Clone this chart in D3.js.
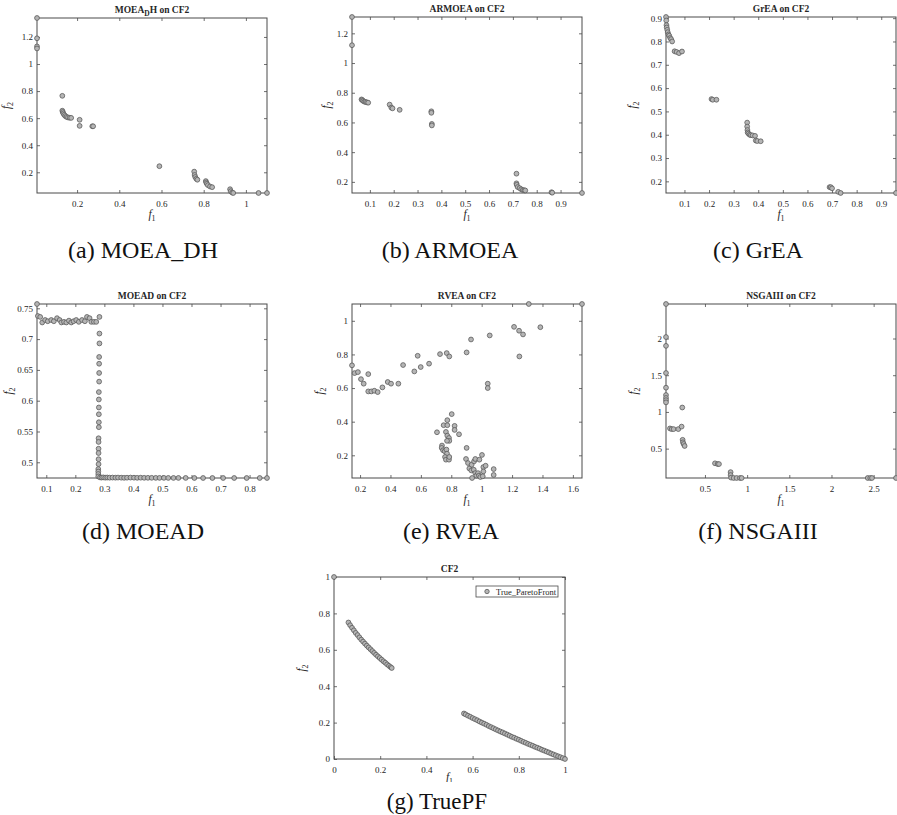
<!DOCTYPE html>
<html>
<head>
<meta charset="utf-8">
<script src="https://cdn.jsdelivr.net/npm/d3@7"></script>
<style>
  body { margin: 0; background: #fff; }
  svg { display: block; }
</style>
</head>
<body>
<svg id="fig" width="897" height="815"></svg>
<script>
// ---- Objective values (f1, f2) of each algorithm's final population on CF2 ----
const moeadhF1 = [0.01, 0.01, 0.01, 0.01, 0.13, 0.13, 0.132, 0.135, 0.139, 0.144, 0.15, 0.157, 0.165, 0.172,
  0.212, 0.212, 0.272, 0.276, 0.59, 0.755, 0.757, 0.76, 0.765, 0.77, 0.81, 0.812, 0.815, 0.82, 0.83, 0.84,
  0.925, 0.928, 0.935, 0.94, 1.06, 1.10];
const moeadhF2 = [1.34, 1.19, 1.13, 1.115, 0.765, 0.655, 0.645, 0.635, 0.625, 0.616, 0.609, 0.605, 0.603, 0.602,
  0.588, 0.543, 0.54, 0.54, 0.245, 0.205, 0.18, 0.165, 0.152, 0.145, 0.135, 0.125, 0.115, 0.105, 0.095, 0.09,
  0.075, 0.06, 0.05, 0.047, 0.047, 0.047];

const armoeaF1 = [0.025, 0.025, 0.065, 0.068, 0.072, 0.077, 0.082, 0.088, 0.093, 0.183, 0.19, 0.195, 0.225,
  0.358, 0.358, 0.36, 0.36, 0.715, 0.715, 0.716, 0.72, 0.728, 0.735, 0.742, 0.748, 0.752, 0.862, 0.865, 0.99];
const armoeaF2 = [1.31, 1.12, 0.755, 0.75, 0.745, 0.74, 0.738, 0.735, 0.733, 0.72, 0.70, 0.695, 0.685,
  0.675, 0.665, 0.59, 0.58, 0.255, 0.19, 0.18, 0.165, 0.158, 0.15, 0.145, 0.143, 0.142, 0.13, 0.127, 0.125];

const greaF1 = [0.025, 0.026, 0.027, 0.028, 0.03, 0.032, 0.035, 0.038, 0.042, 0.046, 0.05, 0.06, 0.068, 0.078, 0.09,
  0.21, 0.215, 0.23, 0.355, 0.355, 0.356, 0.357, 0.36, 0.365, 0.37, 0.377, 0.387, 0.39, 0.396, 0.41,
  0.69, 0.695, 0.70, 0.725, 0.735, 0.96];
const greaF2 = [0.905, 0.89, 0.87, 0.86, 0.85, 0.84, 0.83, 0.825, 0.815, 0.81, 0.80, 0.758, 0.755, 0.75, 0.757,
  0.553, 0.55, 0.55, 0.452, 0.435, 0.42, 0.41, 0.405, 0.40, 0.398, 0.397, 0.395, 0.375, 0.373, 0.372,
  0.175, 0.175, 0.17, 0.155, 0.15, 0.15];

const moeadF1 = [
  0.068, 0.071, 0.079, 0.086, 0.096, 0.105, 0.117, 0.126, 0.137, 0.146, 0.152, 0.161, 0.169, 0.178, 0.186,
  0.194, 0.203, 0.212, 0.223, 0.233, 0.24, 0.249, 0.255, 0.264, 0.272, 0.283,
  0.283, 0.283, 0.282, 0.282, 0.282, 0.282, 0.281, 0.281, 0.281, 0.281, 0.281, 0.281, 0.28, 0.28, 0.28,
  0.28, 0.28, 0.28, 0.279, 0.279, 0.279, 0.279,
  0.285, 0.29, 0.296, 0.303, 0.31, 0.318, 0.328, 0.338, 0.347, 0.358, 0.368, 0.378, 0.39, 0.402, 0.413,
  0.425, 0.437, 0.45, 0.463, 0.477, 0.49, 0.505, 0.52, 0.538, 0.555, 0.58, 0.61, 0.64, 0.672, 0.709,
  0.747, 0.79, 0.835, 0.86];
const moeadF2 = [
  0.757, 0.7375, 0.736, 0.727, 0.731, 0.729, 0.731, 0.729, 0.734, 0.731, 0.727, 0.728, 0.727, 0.73, 0.727,
  0.729, 0.731, 0.728, 0.731, 0.729, 0.736, 0.734, 0.728, 0.728, 0.728, 0.736,
  0.709, 0.693, 0.671, 0.66, 0.645, 0.631, 0.614, 0.602, 0.589, 0.578, 0.565, 0.557, 0.539, 0.533, 0.522,
  0.515, 0.505, 0.497, 0.489, 0.485, 0.481, 0.477,
  0.4755, 0.4752, 0.4755, 0.475, 0.4753, 0.475, 0.4752, 0.475, 0.4752, 0.475, 0.4748, 0.475, 0.4752, 0.475,
  0.4748, 0.475, 0.4748, 0.4748, 0.4748, 0.4747, 0.4747, 0.4747, 0.4746, 0.4746, 0.4746, 0.4746, 0.4745,
  0.4745, 0.4745, 0.4745, 0.4745, 0.4745, 0.4745, 0.4745];

const rveaF1 = [
  0.147, 0.164, 0.186, 0.206, 0.224, 0.254, 0.254, 0.274, 0.294, 0.316, 0.347, 0.382, 0.404, 0.452, 0.483,
  0.557, 0.579, 0.599, 0.654, 0.726, 0.77, 0.787, 0.901, 0.93, 1.04, 1.04, 1.053, 1.213, 1.246, 1.272,
  1.248, 1.31, 1.386, 1.66,
  0.706, 0.75, 0.774, 0.774, 0.803, 0.822, 0.822, 0.851, 0.765, 0.774, 0.785, 0.787, 0.772, 0.739, 0.737,
  0.746, 0.757, 0.768, 0.772, 0.759, 0.765, 0.785, 0.787, 0.901, 0.897, 0.91, 0.919, 0.934, 0.95, 0.958,
  0.985, 1.002, 0.932, 0.948, 0.958, 0.965, 0.976, 0.982, 0.991, 0.937, 1.011, 1.011, 1.007, 1.026, 1.079,
  1.079];
const rveaF2 = [
  0.735, 0.689, 0.695, 0.653, 0.626, 0.683, 0.58, 0.58, 0.584, 0.576, 0.604, 0.636, 0.626, 0.626, 0.737,
  0.699, 0.792, 0.725, 0.745, 0.802, 0.808, 0.788, 0.812, 0.889, 0.626, 0.60, 0.913, 0.964, 0.941, 0.919,
  0.788, 1.10, 0.962, 1.10,
  0.337, 0.379, 0.379, 0.409, 0.445, 0.375, 0.351, 0.325, 0.339, 0.317, 0.303, 0.286, 0.286, 0.258, 0.244,
  0.23, 0.224, 0.234, 0.21, 0.19, 0.174, 0.174, 0.19, 0.244, 0.178, 0.154, 0.122, 0.144, 0.164, 0.178,
  0.174, 0.202, 0.11, 0.114, 0.094, 0.079, 0.094, 0.079, 0.071, 0.065, 0.13, 0.104, 0.075, 0.138, 0.118,
  0.083];

const nsgaiiiF1 = [0.038, 0.038, 0.038, 0.038, 0.038, 0.038, 0.038, 0.038, 0.038, 0.231,
  0.085, 0.105, 0.128, 0.184, 0.223, 0.235, 0.239, 0.247, 0.259, 0.619, 0.65, 0.666,
  0.804, 0.804, 0.81, 0.84, 0.875, 0.915, 0.935, 2.43, 2.46, 2.48, 2.765];
const nsgaiiiF2 = [2.47, 2.02, 1.9, 1.53, 1.33, 1.23, 1.19, 1.16, 1.13, 1.06,
  0.775, 0.766, 0.766, 0.766, 0.80, 0.62, 0.586, 0.563, 0.536, 0.30, 0.29, 0.29,
  0.18, 0.14, 0.105, 0.10, 0.10, 0.10, 0.10, 0.10, 0.10, 0.10, 0.10];

// True Pareto front of CF2 (isolated point plus two disconnected pieces)
const trueF1 = [0,
  0.0625, 0.07, 0.078, 0.086, 0.094, 0.102, 0.11, 0.118, 0.126, 0.134, 0.142, 0.15, 0.158, 0.166, 0.174,
  0.182, 0.19, 0.198, 0.206, 0.214, 0.222, 0.23, 0.238, 0.245, 0.25,
  0.5625, 0.57, 0.58, 0.59, 0.60, 0.61, 0.62, 0.63, 0.64, 0.65, 0.66, 0.67, 0.68, 0.69, 0.70, 0.71, 0.72,
  0.73, 0.74, 0.75, 0.76, 0.77, 0.78, 0.79, 0.80, 0.81, 0.82, 0.83, 0.84, 0.85, 0.86, 0.87, 0.88, 0.89,
  0.90, 0.91, 0.92, 0.93, 0.94, 0.95, 0.96, 0.97, 0.98, 0.99, 1.0];
const trueF2 = [1,
  0.75, 0.735, 0.721, 0.707, 0.693, 0.681, 0.668, 0.656, 0.645, 0.634, 0.623, 0.613, 0.603, 0.593, 0.583,
  0.573, 0.564, 0.555, 0.546, 0.537, 0.529, 0.52, 0.512, 0.505, 0.5,
  0.25, 0.245, 0.238, 0.232, 0.225, 0.219, 0.213, 0.206, 0.2, 0.194, 0.188, 0.181, 0.175, 0.169, 0.163,
  0.157, 0.151, 0.146, 0.14, 0.134, 0.128, 0.122, 0.117, 0.111, 0.106, 0.1, 0.094, 0.089, 0.083, 0.078,
  0.073, 0.067, 0.062, 0.057, 0.051, 0.046, 0.041, 0.036, 0.03, 0.025, 0.02, 0.015, 0.01, 0.005, 0];

// ---- Tick values ----
const ticksA = { x: [0.2, 0.4, 0.6, 0.8, 1], y: [0.2, 0.4, 0.6, 0.8, 1, 1.2] };
const ticksB = { x: [0.1, 0.2, 0.3, 0.4, 0.5, 0.6, 0.7, 0.8, 0.9], y: [0.2, 0.4, 0.6, 0.8, 1, 1.2] };
const ticksC = { x: [0.1, 0.2, 0.3, 0.4, 0.5, 0.6, 0.7, 0.8, 0.9], y: [0.2, 0.3, 0.4, 0.5, 0.6, 0.7, 0.8, 0.9] };
const ticksD = { x: [0.1, 0.2, 0.3, 0.4, 0.5, 0.6, 0.7, 0.8], y: [0.5, 0.55, 0.6, 0.65, 0.7, 0.75] };
const ticksE = { x: [0.2, 0.4, 0.6, 0.8, 1, 1.2, 1.4, 1.6], y: [0.2, 0.4, 0.6, 0.8, 1] };
const ticksF = { x: [0.5, 1, 1.5, 2, 2.5], y: [0.5, 1, 1.5, 2] };
const ticksG = { x: [0, 0.2, 0.4, 0.6, 0.8, 1], y: [0, 0.2, 0.4, 0.6, 0.8, 1] };

// ---- Panels: titles (pieces with optional subscript), captions, data ----
const panels = [
  { title: [["MOEA"], ["D", "sub"], ["H on CF2"]], caption: "(a) MOEA_DH", f1: moeadhF1, f2: moeadhF2, ticks: ticksA },
  { title: [["ARMOEA on CF2"]], caption: "(b) ARMOEA", f1: armoeaF1, f2: armoeaF2, ticks: ticksB },
  { title: [["GrEA on CF2"]], caption: "(c) GrEA", f1: greaF1, f2: greaF2, ticks: ticksC },
  { title: [["MOEAD on CF2"]], caption: "(d) MOEAD", f1: moeadF1, f2: moeadF2, ticks: ticksD },
  { title: [["RVEA on CF2"]], caption: "(e) RVEA", f1: rveaF1, f2: rveaF2, ticks: ticksE },
  { title: [["NSGAIII on CF2"]], caption: "(f) NSGAIII", f1: nsgaiiiF1, f2: nsgaiiiF2, ticks: ticksF },
  { title: [["CF2"]], caption: "(g) TruePF", f1: trueF1, f2: trueF2, ticks: ticksG, legend: "True_ParetoFront" }
];

// ---- Layout of each sub-figure (axes box, label offsets, caption anchor) ----
const frames = [
  { x: 37,  y: 18,  w: 230, h: 175, yl: 27, xl: 25, cx: 143, cy: 258 },
  { x: 352, y: 17,  w: 230, h: 176, yl: 22, xl: 25, cx: 450, cy: 258 },
  { x: 666, y: 17,  w: 230, h: 176, yl: 30, xl: 25, cx: 758, cy: 258 },
  { x: 37,  y: 304, w: 230, h: 174, yl: 25, xl: 25, cx: 143, cy: 539 },
  { x: 352, y: 304, w: 230, h: 174, yl: 29, xl: 25, cx: 451, cy: 539 },
  { x: 666, y: 304, w: 230, h: 174, yl: 29, xl: 25, cx: 758, cy: 539 },
  { x: 334, y: 577, w: 231, h: 182, yl: 29, xl: 22, cx: 437, cy: 809, clipLabel: 782 }
];

const INK = "#262626";
const AXIS = "#4a4a4a";
const SERIF = "'Liberation Serif', 'Times New Roman', serif";
const fmt = d3.format("~g");

const svg = d3.select("#fig");
svg.append("rect").attr("width", 897).attr("height", 815).attr("fill", "#fff");

function subscriptLabel(sel, letter, sub) {
  sel.append("tspan").attr("font-style", "italic").text(letter);
  sel.append("tspan").attr("font-size", 8).attr("dy", 3).text(sub);
}

panels.forEach((p, i) => {
  const f = frames[i];
  const g = svg.append("g").attr("transform", `translate(${f.x},${f.y})`);

  const x = d3.scaleLinear().domain(d3.extent(p.f1)).range([0, f.w]);
  const y = d3.scaleLinear().domain(d3.extent(p.f2)).range([f.h, 0]);

  // Axes with inward ticks on all four sides
  const axes = [
    { a: d3.axisBottom(x).tickValues(p.ticks.x).tickFormat(fmt).tickPadding(7.5), t: `translate(0,${f.h})` },
    { a: d3.axisTop(x).tickValues(p.ticks.x).tickFormat(""), t: null },
    { a: d3.axisLeft(y).tickValues(p.ticks.y).tickFormat(fmt).tickPadding(4), t: null },
    { a: d3.axisRight(y).tickValues(p.ticks.y).tickFormat(""), t: `translate(${f.w},0)` }
  ];
  axes.forEach(({ a, t }) => {
    const ag = g.append("g");
    if (t) ag.attr("transform", t);
    ag.call(a.tickSizeInner(-3).tickSizeOuter(0));
    ag.select(".domain").remove();
    ag.selectAll(".tick line").attr("stroke", AXIS).attr("stroke-width", 0.8);
    ag.selectAll(".tick text")
      .attr("fill", INK)
      .attr("font-family", SERIF)
      .attr("font-size", 9);
  });

  // Axes box
  g.append("rect")
    .attr("width", f.w).attr("height", f.h)
    .attr("fill", "none").attr("stroke", AXIS).attr("stroke-width", 1);

  // Points
  g.append("g")
    .selectAll("circle")
    .data(d3.zip(p.f1, p.f2))
    .join("circle")
    .attr("cx", d => x(d[0]))
    .attr("cy", d => y(d[1]))
    .attr("r", 2.4)
    .attr("fill", "#b5b5b5")
    .attr("stroke", "#5a5a5a")
    .attr("stroke-width", 0.8);

  // Title
  const title = g.append("text")
    .attr("x", f.w / 2).attr("y", -5.5)
    .attr("text-anchor", "middle")
    .attr("font-family", SERIF).attr("font-weight", "bold").attr("font-size", 9.5)
    .attr("fill", INK);
  p.title.forEach(([txt, kind]) => {
    const ts = title.append("tspan").text(txt);
    if (kind === "sub") ts.attr("font-size", 7.5).attr("dy", 3);
    else if (title.selectAll("tspan").size() > 1) ts.attr("dy", -3);
  });

  // Axis labels
  const xl = g.append("text")
    .attr("x", f.w / 2).attr("y", f.h + f.xl)
    .attr("text-anchor", "middle")
    .attr("font-family", SERIF).attr("font-size", 11.5).attr("fill", INK);
  subscriptLabel(xl, "f", "1");
  if (f.clipLabel) {
    // the exported sub-figure ends just below the axis label
    const id = "clip" + i;
    svg.append("clipPath").attr("id", id)
      .append("rect").attr("x", -50).attr("y", -50)
      .attr("width", f.w + 100).attr("height", f.clipLabel - f.y + 50);
    xl.attr("clip-path", `url(#${id})`);
  }

  const yl = g.append("text")
    .attr("transform", `translate(${-f.yl},${f.h / 2}) rotate(-90)`)
    .attr("text-anchor", "middle")
    .attr("font-family", SERIF).attr("font-size", 11.5).attr("fill", INK);
  subscriptLabel(yl, "f", "2");

  // Legend
  if (p.legend) {
    const lw = 82, lh = 11;
    const lg = g.append("g").attr("transform", `translate(${f.w - 7 - lw},9)`);
    lg.append("rect").attr("width", lw).attr("height", lh)
      .attr("fill", "#fff").attr("stroke", AXIS).attr("stroke-width", 0.8);
    lg.append("circle").attr("cx", 11).attr("cy", lh / 2).attr("r", 2.2)
      .attr("fill", "#b5b5b5").attr("stroke", "#5a5a5a").attr("stroke-width", 0.8);
    lg.append("text").attr("x", 20).attr("y", lh / 2 + 3)
      .attr("font-family", SERIF).attr("font-size", 8.5).attr("fill", INK)
      .text(p.legend);
  }

  // Sub-figure caption
  svg.append("text")
    .attr("x", f.cx).attr("y", f.cy)
    .attr("text-anchor", "middle")
    .attr("font-family", SERIF).attr("font-size", i === 6 ? 23 : 24).attr("fill", "#111")
    .text(p.caption);
});
</script>
</body>
</html>
